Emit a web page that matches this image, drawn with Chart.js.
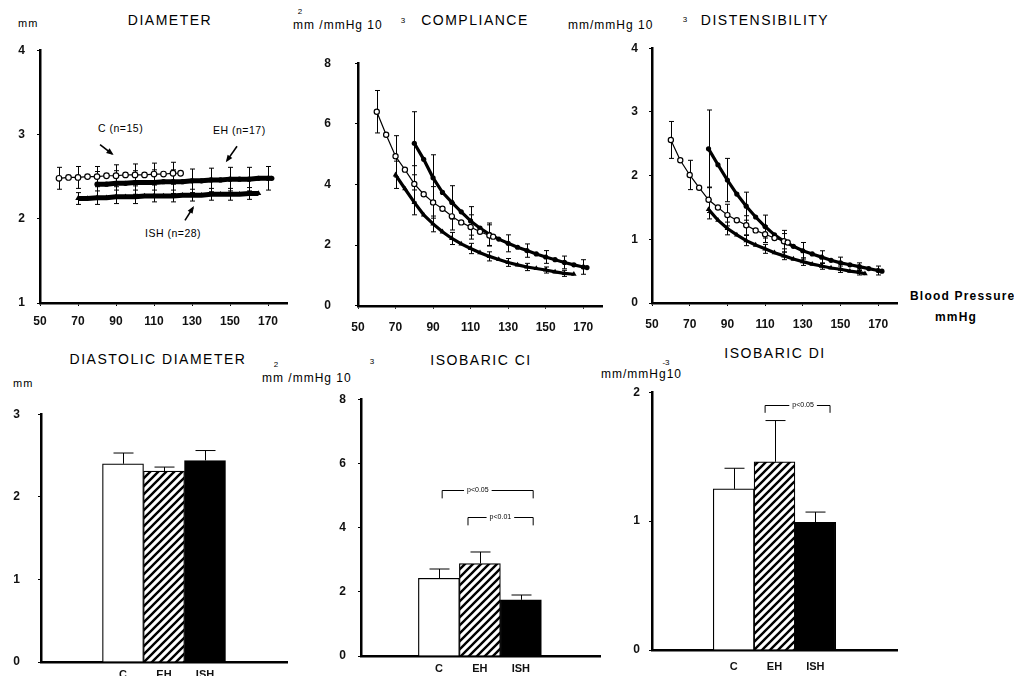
<!DOCTYPE html>
<html><head><meta charset="utf-8">
<script src="https://cdn.jsdelivr.net/npm/chart.js@4.4.1/dist/chart.umd.min.js"></script>
<style>
html,body{margin:0;padding:0;background:#fff;}
body{width:1014px;height:676px;position:relative;overflow:hidden;font-family:"Liberation Sans",Arial,sans-serif;color:#000;}
canvas{position:absolute;}
.t{position:absolute;white-space:nowrap;line-height:1;}
.title{font-size:14px;letter-spacing:1.5px;transform:translate(-50%,-50%);}
.unit{font-size:12px;letter-spacing:1px;transform:translateY(-50%);}
.sup{position:absolute;font-size:8px;line-height:1;white-space:nowrap;transform:translate(-50%,-50%);}
.ann{font-size:10.5px;letter-spacing:0.5px;transform:translateY(-50%);}
.bp{font-size:12px;letter-spacing:1.2px;font-weight:bold;transform:translateY(-50%);}
</style></head><body>
<div class="t title" style="left:170px;top:20px">DIAMETER</div>
<div class="t title" style="left:475px;top:20px">COMPLIANCE</div>
<div class="t title" style="left:765px;top:20px">DISTENSIBILITY</div>
<div class="t title" style="left:158px;top:359px">DIASTOLIC DIAMETER</div>
<div class="t title" style="left:481px;top:360px">ISOBARIC CI</div>
<div class="t title" style="left:775px;top:353px">ISOBARIC DI</div>

<div class="t unit" style="left:18px;top:23px;font-size:11px">mm</div>
<div class="t unit" style="left:293px;top:25px">mm /mmHg 10</div>
<div class="sup" style="left:300px;top:12px">2</div>
<div class="sup" style="left:403px;top:21px">3</div>
<div class="t unit" style="left:568px;top:25px">mm/mmHg 10</div>
<div class="sup" style="left:685px;top:20px">3</div>
<div class="t unit" style="left:13px;top:383px;font-size:11px">mm</div>
<div class="t unit" style="left:262px;top:378px">mm /mmHg 10</div>
<div class="sup" style="left:276px;top:365px">2</div>
<div class="sup" style="left:372px;top:362px">3</div>
<div class="t unit" style="left:601px;top:374px">mm/mmHg10</div>
<div class="sup" style="left:666px;top:363px">-3</div>

<div class="t ann" style="left:98px;top:128px">C (n=15)</div>
<div class="t ann" style="left:213px;top:130px">EH (n=17)</div>
<div class="t ann" style="left:145px;top:233px">ISH (n=28)</div>
<div class="t bp" style="left:910px;top:296px">Blood Pressure</div>
<div class="t bp" style="left:935px;top:317px">mmHg</div>

<script>
// ---------------- DATA ----------------
const bpTicks = [50, 70, 90, 110, 130, 150, 170];
const groups = ['C', 'EH', 'ISH'];

// Diameter (mm) vs blood pressure
const diamTicks = [1, 2, 3, 4];
const bpDiamC   = [60,65,70,75,80,85,90,95,100,105,110,115,120,124];
const diamC     = [2.48,2.49,2.49,2.50,2.50,2.51,2.51,2.52,2.52,2.52,2.53,2.53,2.54,2.54];
const bpDiamEH  = [80,85,90,95,100,105,110,115,120,125,130,135,140,145,150,155,160,165,170,172];
const diamEH    = [2.41,2.41,2.42,2.42,2.43,2.43,2.43,2.44,2.44,2.44,2.45,2.45,2.46,2.46,2.47,2.47,2.47,2.48,2.48,2.48];
const bpDiamISH = [70,75,80,85,90,95,100,105,110,115,120,125,130,135,140,145,150,155,160,165];
const diamISH   = [2.24,2.24,2.25,2.25,2.26,2.26,2.26,2.27,2.27,2.27,2.27,2.28,2.28,2.28,2.29,2.29,2.29,2.29,2.30,2.30];
const errBpDiamC = [60,70,80,90,100,110,120];
const sdDiamC    = [0.13,0.13,0.12,0.13,0.13,0.13,0.13];
const errBpDiamEH = [80,90,100,110,120,130,140,150,160,170];
const sdDiamEH    = [0.15,0.15,0.14,0.15,0.14,0.14,0.14,0.14,0.14,0.14];
const errBpDiamISH = [70,80,90,100,110,120,130,140,150,160];
const sdDiamISH    = [0.07,0.08,0.08,0.08,0.07,0.07,0.07,0.07,0.07,0.07];

// Compliance (mm2/mmHg 10-3)
const compTicks = [0, 2, 4, 6, 8];
const bpCompC   = [60,65,70,75,80,85,90,95,100,105,110,115,120,122];
const compC     = [6.40,5.64,4.93,4.49,4.02,3.68,3.41,3.20,2.95,2.75,2.60,2.44,2.32,2.28];
const bpCompEH  = [80,85,90,95,100,105,110,115,120,125,130,135,140,145,150,155,160,165,170,172];
const compEH    = [5.36,4.83,4.22,3.74,3.41,3.10,2.80,2.56,2.36,2.20,2.06,1.93,1.82,1.71,1.61,1.52,1.43,1.35,1.28,1.26];
const bpCompISH = [70,75,80,85,90,95,100,105,110,115,120,125,130,135,140,145,150,155,160,165];
const compISH   = [4.32,3.86,3.41,3.00,2.70,2.44,2.22,2.04,1.89,1.75,1.63,1.53,1.43,1.35,1.28,1.23,1.18,1.12,1.07,1.04];
const errBpCompC = [60,70,80,90,100,110,120];
const sdCompC    = [0.70,0.68,0.60,0.52,0.45,0.40,0.35];
const errBpCompEH = [80,90,100,110,120,130,140,150,160,170];
const sdCompEH    = [1.04,0.76,0.55,0.47,0.37,0.28,0.22,0.21,0.21,0.24];
const errBpCompISH = [70,80,90,100,110,120,130,140,150,160];
const sdCompISH    = [0.45,0.41,0.26,0.20,0.17,0.15,0.13,0.12,0.10,0.10];

// Distensibility (mm/mmHg 10-3)
const distTicks = [0, 1, 2, 3, 4];
const bpDistC   = [60,65,70,75,80,85,90,95,100,105,110,115,120,122];
const distC     = [2.56,2.24,2.01,1.81,1.62,1.50,1.38,1.30,1.22,1.14,1.08,1.02,0.97,0.95];
const bpDistEH  = [80,85,90,95,100,105,110,115,120,125,130,135,140,145,150,155,160,165,170,172];
const distEH    = [2.42,2.17,1.93,1.71,1.52,1.35,1.20,1.07,0.97,0.89,0.82,0.77,0.72,0.67,0.63,0.60,0.57,0.54,0.51,0.50];
const bpDistISH = [80,85,90,95,100,105,110,115,120,125,130,135,140,145,150,155,160,163];
const distISH   = [1.47,1.30,1.17,1.07,0.98,0.91,0.85,0.79,0.74,0.69,0.65,0.61,0.58,0.55,0.53,0.50,0.48,0.46];
const errBpDistC = [60,70,80,90,100,110,120];
const sdDistC    = [0.29,0.23,0.20,0.17,0.15,0.13,0.12];
const errBpDistEH = [80,90,100,110,120,130,140,150,160,170];
const sdDistEH    = [0.61,0.34,0.22,0.18,0.17,0.13,0.10,0.09,0.06,0.07];
const errBpDistISH = [80,90,100,110,120,130,140,150,160];
const sdDistISH    = [0.15,0.10,0.08,0.07,0.06,0.06,0.05,0.05,0.04];

// Bar panels
const diaDiamTicks = [0, 1, 2, 3];
const diaDiam   = [2.40, 2.31, 2.44];
const diaDiamSD = [0.13, 0.05, 0.12];
const ciTicks = [0, 2, 4, 6, 8];
const isoCI   = [2.42, 2.88, 1.75];
const isoCISD = [0.29, 0.36, 0.15];
const diTicks = [0, 1, 2];
const isoDI   = [1.25, 1.46, 0.99];
const isoDISD = [0.16, 0.32, 0.08];

// ---------------- DRAWING ----------------
const FONT = '"Liberation Sans", Arial, sans-serif';
const zip = (xs, ys) => xs.map((x, i) => ({x: x, y: ys[i]}));

const errPlugin = {
  id: 'errbars',
  beforeDatasetsDraw(chart) {
    const ctx = chart.ctx, xs = chart.scales.x, ys = chart.scales.y;
    chart.data.datasets.forEach(ds => {
      if (!ds.errX) return;
      ctx.save();
      ctx.strokeStyle = '#000';
      ctx.lineWidth = ds.errLine || 1;
      ds.errX.forEach((xv, i) => {
        const p = ds.data.find(d => d.x === xv);
        if (!p) return;
        const px = Math.round(xs.getPixelForValue(xv)) + 0.5;
        const yTop = ys.getPixelForValue(p.y + ds.errSD[i]);
        const yBot = ds.errUpOnly ? ys.getPixelForValue(p.y) : ys.getPixelForValue(p.y - ds.errSD[i]);
        const hw = ds.errCap;
        ctx.beginPath();
        ctx.moveTo(px, yTop); ctx.lineTo(px, yBot);
        ctx.moveTo(px - hw, yTop); ctx.lineTo(px + hw, yTop);
        if (!ds.errUpOnly) { ctx.moveTo(px - hw, yBot); ctx.lineTo(px + hw, yBot); }
        ctx.stroke();
      });
      ctx.restore();
    });
  }
};

const bracketPlugin = {
  id: 'brackets',
  afterDatasetsDraw(chart, args, opts) {
    const items = (opts && opts.items) || [];
    const ctx = chart.ctx, xs = chart.scales.x, ys = chart.scales.y;
    items.forEach(b => {
      const x1 = xs.getPixelForValue(b.x1), x2 = xs.getPixelForValue(b.x2);
      const yy = Math.round(ys.getPixelForValue(b.y)) + 0.5, yt = ys.getPixelForValue(b.yTick);
      ctx.save();
      ctx.strokeStyle = '#000'; ctx.lineWidth = 1;
      ctx.beginPath();
      ctx.moveTo(x1, yt); ctx.lineTo(x1, yy); ctx.lineTo(x2, yy); ctx.lineTo(x2, yt);
      ctx.stroke();
      ctx.font = '7px ' + FONT;
      const tx = xs.getPixelForValue(b.tx);
      const w = ctx.measureText(b.text).width;
      ctx.fillStyle = '#fff';
      ctx.fillRect(tx - w / 2 - 3, yy - 3, w + 6, 6);
      ctx.fillStyle = '#000';
      ctx.textAlign = 'center'; ctx.textBaseline = 'middle';
      ctx.fillText(b.text, tx, yy);
      ctx.restore();
    });
  }
};

const arrowPlugin = {
  id: 'arrows',
  afterDatasetsDraw(chart, args, opts) {
    const items = (opts && opts.items) || [];
    const ctx = chart.ctx, xs = chart.scales.x, ys = chart.scales.y;
    items.forEach(a => {
      const x1 = xs.getPixelForValue(a.from[0]), y1 = ys.getPixelForValue(a.from[1]);
      const x2 = xs.getPixelForValue(a.to[0]), y2 = ys.getPixelForValue(a.to[1]);
      const ang = Math.atan2(y2 - y1, x2 - x1);
      ctx.save();
      ctx.strokeStyle = '#000'; ctx.fillStyle = '#000'; ctx.lineWidth = 1.6;
      ctx.beginPath(); ctx.moveTo(x1, y1); ctx.lineTo(x2, y2); ctx.stroke();
      ctx.beginPath();
      ctx.moveTo(x2 + 2 * Math.cos(ang), y2 + 2 * Math.sin(ang));
      ctx.lineTo(x2 - 6 * Math.cos(ang - 0.5), y2 - 6 * Math.sin(ang - 0.5));
      ctx.lineTo(x2 - 6 * Math.cos(ang + 0.5), y2 - 6 * Math.sin(ang + 0.5));
      ctx.closePath(); ctx.fill();
      ctx.restore();
    });
  }
};

function makeCanvas(a) {
  const padT = 12, padR = 14, yw = 40, xh = 30;
  const c = document.createElement('canvas');
  c.width = a.R - a.L + yw + padR;
  c.height = a.B - a.T + padT + xh;
  c.style.left = (a.L - yw) + 'px';
  c.style.top = (a.T - padT) + 'px';
  document.body.appendChild(c);
  return {canvas: c, padding: {left: 0, top: padT, right: padR, bottom: 0}};
}

const tickFont = {family: FONT, size: 12, weight: 'bold'};

function yScale(ticks, pad) {
  return {
    type: 'linear', min: ticks[0], max: ticks[ticks.length - 1],
    afterBuildTicks: s => { s.ticks = ticks.map(v => ({value: v})); },
    afterFit: s => { s.width = 40; },
    ticks: {padding: pad, color: '#111', font: tickFont},
    grid: {display: true, drawOnChartArea: false, drawTicks: true, tickLength: 3, color: '#000', lineWidth: 1},
    border: {display: true, color: '#000', width: 2.5}
  };
}

function xLineScale(pad) {
  return {
    type: 'linear', min: 50, max: 180,
    afterBuildTicks: s => { s.ticks = bpTicks.map(v => ({value: v})); },
    afterFit: s => { s.height = 30; },
    ticks: {padding: pad, color: '#111', font: tickFont, maxRotation: 0, autoSkip: false},
    grid: {display: true, drawOnChartArea: false, drawTicks: true, tickLength: 3, color: '#000', lineWidth: 1},
    border: {display: true, color: '#000', width: 2.5}
  };
}

function xBarScale(span, pos, pad) {
  return {
    type: 'linear', min: 0, max: span, offset: false,
    afterBuildTicks: s => { s.ticks = pos.map(v => ({value: v})); },
    afterFit: s => { s.height = 30; },
    ticks: {padding: pad, color: '#111', font: {family: FONT, size: 11, weight: 'bold'}, maxRotation: 0, autoSkip: false,
      callback: (v, i) => groups[i]},
    grid: {display: false, offset: false, drawTicks: false},
    border: {display: true, color: '#000', width: 2.5}
  };
}

function seriesSets(big, cx, cy, cex, cesd, ex, ey, eex, eesd, ix, iy, iex, iesd) {
  const lw = big ? 5 : 3.2;
  return [
    {label: 'C', data: zip(cx, cy), borderColor: '#000', borderWidth: 1.2, pointStyle: 'circle',
     pointRadius: big ? 2.8 : 2.6, pointBackgroundColor: '#fff', pointBorderColor: '#000', pointBorderWidth: 1.2,
     errX: cex, errSD: cesd, errCap: 2.5},
    {label: 'EH', data: zip(ex, ey), borderColor: '#000', borderWidth: lw, pointStyle: 'circle',
     pointRadius: 2.6, pointBackgroundColor: '#000', pointBorderColor: '#000', pointBorderWidth: 0,
     errX: eex, errSD: eesd, errCap: 2.5},
    {label: 'ISH', data: zip(ix, iy), borderColor: '#000', borderWidth: lw, pointStyle: 'triangle',
     pointRadius: 3.2, pointBackgroundColor: '#000', pointBorderColor: '#000', pointBorderWidth: 0,
     errX: iex, errSD: iesd, errCap: 2.5}
  ];
}

function lineChart(area, yTicks, yPad, xPad, datasets, extra) {
  const m = makeCanvas(area);
  return new Chart(m.canvas, {
    type: 'line',
    data: {datasets: datasets},
    options: {
      responsive: false, animation: false, devicePixelRatio: 1,
      layout: {padding: m.padding},
      elements: {line: {tension: 0}},
      scales: {x: xLineScale(xPad), y: yScale(yTicks, yPad)},
      plugins: Object.assign({legend: {display: false}, tooltip: {enabled: false}}, extra || {})
    },
    plugins: [errPlugin, arrowPlugin]
  });
}

function hatchPattern() {
  const c = document.createElement('canvas');
  c.width = 8; c.height = 8;
  const g = c.getContext('2d');
  g.fillStyle = '#fff'; g.fillRect(0, 0, 8, 8);
  g.strokeStyle = '#000'; g.lineWidth = 2.4; g.lineCap = 'square';
  g.beginPath();
  g.moveTo(-2, 10); g.lineTo(10, -2);
  g.moveTo(-2, 2); g.lineTo(2, -2);
  g.moveTo(6, 10); g.lineTo(10, 6);
  g.stroke();
  return g.createPattern(c, 'repeat');
}

function barChart(area, span, pos, yTicks, yPad, xPad, vals, sds, brackets) {
  const m = makeCanvas(area);
  const hatch = hatchPattern();
  return new Chart(m.canvas, {
    type: 'bar',
    data: {datasets: [{
      data: zip(pos, vals),
      backgroundColor: ['#fff', hatch, '#000'],
      borderColor: '#000', borderWidth: 1.2, borderSkipped: 'bottom',
      categoryPercentage: 1, barPercentage: 1,
      errX: pos, errSD: sds, errUpOnly: true, errCap: 10
    }]},
    options: {
      responsive: false, animation: false, devicePixelRatio: 1,
      layout: {padding: m.padding},
      scales: {x: xBarScale(span, pos, xPad), y: yScale(yTicks, yPad)},
      plugins: {legend: {display: false}, tooltip: {enabled: false}, brackets: {items: brackets || []}}
    },
    plugins: [errPlugin, bracketPlugin]
  });
}

// Panel 1: diameter
lineChart({L: 40, T: 43, R: 287, B: 303}, diamTicks, 12, 8,
  seriesSets(true, bpDiamC, diamC, errBpDiamC, sdDiamC, bpDiamEH, diamEH, errBpDiamEH, sdDiamEH,
             bpDiamISH, diamISH, errBpDiamISH, sdDiamISH),
  {arrows: {items: [
    {from: [81.6, 2.88], to: [87.9, 2.77]},
    {from: [153.7, 2.86], to: [148.4, 2.69]},
    {from: [126.3, 1.98], to: [130.5, 2.13]}
  ]}});

// Panel 2: compliance
lineChart({L: 358, T: 44, R: 602, B: 307}, compTicks, 24, 12,
  seriesSets(false, bpCompC, compC, errBpCompC, sdCompC, bpCompEH, compEH, errBpCompEH, sdCompEH,
             bpCompISH, compISH, errBpCompISH, sdCompISH));

// Panel 3: distensibility
lineChart({L: 652, T: 42, R: 897, B: 303}, distTicks, 11, 11,
  seriesSets(false, bpDistC, distC, errBpDistC, sdDistC, bpDistEH, distEH, errBpDistEH, sdDistEH,
             bpDistISH, distISH, errBpDistISH, sdDistISH));

// Panel 4: diastolic diameter
barChart({L: 41, T: 401, R: 287, B: 662}, 6, [2, 3, 4], diaDiamTicks, 18, 6, diaDiam, diaDiamSD);

// Panel 5: isobaric CI
barChart({L: 361, T: 392, R: 600, B: 656}, 5.83, [1.9, 2.9, 3.9], ciTicks, 12, 6, isoCI, isoCISD, [
  {x1: 1.98, x2: 4.2, y: 5.18, yTick: 4.91, tx: 2.85, text: 'p<0.05'},
  {x1: 2.61, x2: 4.2, y: 4.32, yTick: 4.07, tx: 3.4, text: 'p<0.01'}
]);

// Panel 6: isobaric DI
barChart({L: 652, T: 388, R: 897, B: 650}, 6, [2, 3, 4], diTicks, 9, 10, isoDI, isoDISD, [
  {x1: 2.77, x2: 4.36, y: 1.90, yTick: 1.84, tx: 3.7, text: 'p<0.05'}
]);
</script>
</body></html>
